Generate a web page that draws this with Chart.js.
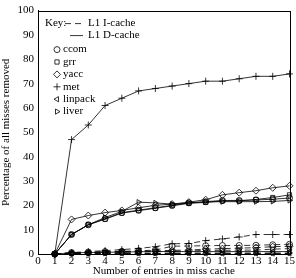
<!DOCTYPE html>
<html>
<head>
<meta charset="utf-8">
<script src="https://cdn.jsdelivr.net/npm/chart.js@4/dist/chart.umd.min.js"></script>
<style>
html,body{margin:0;padding:0;background:#fff;}
#wrap{position:relative;width:296px;height:278px;}
</style>
</head>
<body>
<div id="wrap"><canvas id="c" width="296" height="278"></canvas></div>
<script>
// ---- data ----
const entries = [1,2,3,4,5,6,7,8,9,10,11,12,13,14,15];
const xTicks = [0,1,2,3,4,5,6,7,8,9,10,11,12,13,14,15];
const yTicks = [0,10,20,30,40,50,60,70,80,90,100];
const programs = ['ccom','grr','yacc','met','linpack','liver'];
const cacheNames = ['L1 I-cache','L1 D-cache'];

// L1 D-cache (solid)
const ccomD    = [0,8,12,14.5,17,18,19,20,21,21.5,22,22,22.2,22.5,23];
const grrD     = [0,8,12,14.3,16.8,17.8,18.8,19.8,20.8,21.2,21.8,21.8,22.4,23.2,24.3];
const yaccD    = [0,14.2,15.8,17,17.9,19,20,20.5,21.3,22.3,24.3,25.2,26,27.2,28];
const metD     = [0,47,53,61,64,67,68,69,70,71,71,72,73,73,74];
const linpackD = [0,0.5,0.6,0.7,0.8,0.9,1,1,1,1,1,1,1,1,1];
const liverD   = [0,8,12,15,17.5,21.3,21,20.5,21,21.4,21.5,21.5,21.5,21.6,22];

// L1 I-cache (dashed)
const ccomI    = [0,0.6,0.8,1,1.1,1.3,1.6,3.2,3.3,3.4,3.5,3.5,3.6,3.8,4];
const grrI     = [0,0.3,0.5,0.6,0.7,0.8,1,1.1,1.2,1.5,1.5,1.6,1.6,2,2.2];
const yaccI    = [0,0.3,0.5,0.8,1,1.1,1.3,1.5,1.6,2,2.2,2.4,2.6,3,3.2];
const metI     = [0,0.5,1,1.4,1.8,2.3,3,4.2,4.3,5.5,6.2,7,8,8,8];
const linpackI = [0,0.1,0.1,0.2,0.2,0.2,0.2,0.2,0.2,0.2,0.2,0.2,0.2,0.2,0.2];
const liverI   = [0,0.2,0.2,0.3,0.3,0.3,0.3,0.4,0.4,0.4,0.4,0.4,0.4,0.4,0.4];

// ---- styling (not data) ----
const marker = {
  ccom:    {pointStyle:'circle',   rotation:0,   radius:3},
  grr:     {pointStyle:'rect',     rotation:0,   radius:3},
  yacc:    {pointStyle:'rectRot',  rotation:0,   radius:3.5},
  met:     {pointStyle:'cross',    rotation:0,   radius:3.5},
  linpack: {pointStyle:'triangle', rotation:-90, radius:3},
  liver:   {pointStyle:'triangle', rotation:90,  radius:3}
};
const seriesD = {ccom:ccomD, grr:grrD, yacc:yaccD, met:metD, linpack:linpackD, liver:liverD};
const seriesI = {ccom:ccomI, grr:grrI, yacc:yaccI, met:metI, linpack:linpackI, liver:liverI};
const DASH = [6,4];
const FONT = "'Liberation Serif', 'Times New Roman', serif";

function mk(name, arr, dashed){
  const m = marker[name];
  return {
    label: name + (dashed ? ' I' : ' D'),
    data: entries.map((x,i)=>({x:x, y:arr[i]})),
    borderColor:'#000',
    backgroundColor:'rgba(0,0,0,0)',
    borderWidth:0.8,
    borderDash: dashed ? DASH : [],
    pointStyle: m.pointStyle,
    pointRotation: m.rotation,
    pointRadius: m.radius,
    pointBorderWidth: 0.8,
    pointBorderColor:'#000',
    pointBackgroundColor:'rgba(255,255,255,0)',
    tension:0,
    clip:false
  };
}
const datasets = [];
programs.forEach(p=>{ datasets.push(mk(p, seriesI[p], true)); });
programs.forEach(p=>{ datasets.push(mk(p, seriesD[p], false)); });

const framePlugin = {
  id:'frame',
  afterDraw(chart){
    const a = chart.chartArea, ctx = chart.ctx;
    ctx.save();
    ctx.strokeStyle = '#000';
    ctx.lineWidth = 1;
    ctx.strokeRect(Math.round(a.left)+0.5, Math.round(a.top)+0.5,
                   Math.round(a.right-a.left), Math.round(a.bottom-a.top));
    ctx.restore();
  }
};

const keyPlugin = {
  id:'key',
  afterDraw(chart){
    const a = chart.chartArea, ctx = chart.ctx;
    ctx.save();
    ctx.fillStyle = '#000';
    ctx.strokeStyle = '#000';
    ctx.font = '11px ' + FONT;
    ctx.textBaseline = 'middle';
    ctx.textAlign = 'left';
    const x0 = a.left + 7, y0 = a.top + 13;
    ctx.fillText('Key:', x0, y0);
    ctx.lineWidth = 0.8;
    // dashed sample
    ctx.setLineDash(DASH);
    ctx.beginPath(); ctx.moveTo(a.left+27, y0); ctx.lineTo(a.left+45, y0); ctx.stroke();
    ctx.setLineDash([]);
    ctx.fillText(cacheNames[0], a.left+50, y0);
    // solid sample
    ctx.beginPath(); ctx.moveTo(a.left+32, y0+12); ctx.lineTo(a.left+45, y0+12); ctx.stroke();
    ctx.fillText(cacheNames[1], a.left+50, y0+12);
    const H = Chart.helpers;
    programs.forEach((p,i)=>{
      const y = a.top + 39 + i*12.4;
      const m = marker[p];
      const opts = {pointStyle:m.pointStyle, rotation:m.rotation, radius:m.radius, borderWidth:0.8};
      ctx.fillStyle = 'rgba(255,255,255,0)';
      ctx.strokeStyle = '#000';
      ctx.lineWidth = 0.8;
      if (H && H.drawPoint) { H.drawPoint(ctx, opts, a.left+19, y); }
      ctx.fillStyle = '#000';
      ctx.fillText(p, a.left+25, y);
    });
    ctx.restore();
  }
};

new Chart(document.getElementById('c'), {
  type:'line',
  data:{ datasets },
  options:{
    responsive:false,
    animation:false,
    events:[],
    layout:{ padding:{ left:0, right:5, top:2, bottom:0 } },
    plugins:{ legend:{display:false}, tooltip:{enabled:false} },
    scales:{
      x:{
        type:'linear', min:0, max:15,
        grid:{ display:false, drawTicks:false },
        border:{ display:true, color:'#000', width:1 },
        afterBuildTicks(s){ s.ticks = xTicks.map(v=>({value:v})); },
        ticks:{ color:'#000', font:{family:FONT, size:11}, padding:1, maxRotation:0, autoSkip:false },
        title:{ display:true, text:'Number of entries in miss cache', color:'#000',
                font:{family:FONT, size:11}, padding:{top:0, bottom:0} },
        afterFit(s){ s.height = 24; }
      },
      y:{
        type:'linear', min:0, max:100,
        grid:{ display:false, drawTicks:false },
        border:{ display:true, color:'#000', width:1 },
        afterBuildTicks(s){ s.ticks = yTicks.map(v=>({value:v})); },
        ticks:{ color:'#000', font:{family:FONT, size:11}, padding:4 },
        title:{ display:true, text:'Percentage of all misses removed', color:'#000',
                font:{family:FONT, size:11}, padding:{top:0, bottom:0} },
        afterFit(s){ s.width = 38; }
      }
    }
  },
  plugins:[framePlugin, keyPlugin]
});
</script>
</body>
</html>
